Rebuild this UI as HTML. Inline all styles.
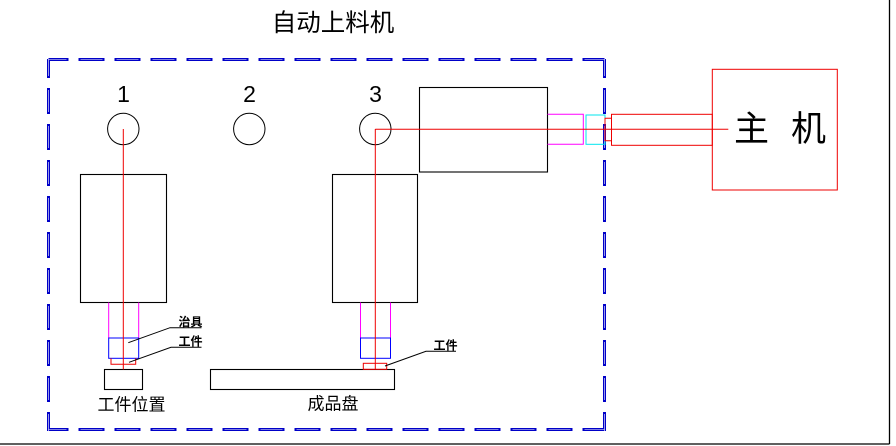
<!DOCTYPE html>
<html><head><meta charset="utf-8"><style>
html,body{margin:0;padding:0;background:#fff;}
svg{display:block;}
</style></head><body>
<svg width="896" height="446" viewBox="0 0 896 446" xmlns="http://www.w3.org/2000/svg">
<rect x="0" y="0" width="896" height="446" fill="#fff"/>
<!-- outer frame lines -->
<line x1="889.5" y1="0" x2="889.5" y2="444" stroke="#000" stroke-width="1.3"/>
<line x1="0" y1="444" x2="889.5" y2="444" stroke="#000" stroke-width="1.3"/>

<!-- title -->
<text x="333" y="31" font-family="'Liberation Sans','Noto Sans CJK SC',sans-serif" font-size="24.5" text-anchor="middle" fill="#000">自动上料机</text>

<!-- dashed boundary -->
<g fill="none">
  <g stroke="#0000c8" stroke-width="3" stroke-dasharray="26 10">
    <line x1="48.5" y1="59.5" x2="604.5" y2="59.5" stroke-dashoffset="6"/>
    <line x1="48.5" y1="429.5" x2="604.5" y2="429.5" stroke-dashoffset="6"/>
    <line x1="48.5" y1="59" x2="48.5" y2="431" stroke-dashoffset="7"/>
    <line x1="604.5" y1="59" x2="604.5" y2="431" stroke-dashoffset="7"/>
  </g>
  <g stroke="#ffffff" stroke-width="0.6" stroke-dasharray="22 14">
    <line x1="48.5" y1="59.5" x2="604.5" y2="59.5" stroke-dashoffset="4"/>
    <line x1="48.5" y1="429.5" x2="604.5" y2="429.5" stroke-dashoffset="4"/>
    <line x1="48.5" y1="59" x2="48.5" y2="431" stroke-dashoffset="5"/>
    <line x1="604.5" y1="59" x2="604.5" y2="431" stroke-dashoffset="5"/>
  </g>
</g>

<!-- station numbers -->
<g font-family="'Liberation Sans',sans-serif" font-size="23" text-anchor="middle" fill="#000">
  <text x="123.5" y="102">1</text>
  <text x="249.5" y="102">2</text>
  <text x="375.5" y="102">3</text>
</g>

<!-- circles -->
<g fill="none" stroke="#000" stroke-width="1">
  <circle cx="123.3" cy="129" r="15.7"/>
  <circle cx="249.3" cy="129" r="15.7"/>
  <circle cx="375.3" cy="129" r="15.7"/>
</g>

<!-- cylinder boxes -->
<g fill="none" stroke="#000" stroke-width="1.1">
  <rect x="80.5" y="174.5" width="86" height="128"/>
  <rect x="332.5" y="174.5" width="85" height="128"/>
  <rect x="419.5" y="87.5" width="128" height="84.5"/>
  <rect x="104.5" y="369.5" width="38" height="20"/>
  <rect x="210.5" y="369.5" width="184" height="20"/>
</g>

<!-- magenta rods -->
<g stroke="#ff00ff" stroke-width="1" fill="none">
  <line x1="108.7" y1="302.5" x2="108.7" y2="338"/>
  <line x1="138.7" y1="302.5" x2="138.7" y2="338"/>
  <line x1="360.5" y1="302.5" x2="360.5" y2="338"/>
  <line x1="390.5" y1="302.5" x2="390.5" y2="338"/>
  <polyline points="547.5,114.3 583.3,114.3 583.3,144.3 547.5,144.3"/>
</g>

<!-- blue jigs -->
<g stroke="#0000ff" stroke-width="1" fill="none">
  <rect x="108.7" y="338" width="30" height="20.3"/>
  <rect x="360.5" y="338" width="30" height="20.3"/>
</g>

<!-- cyan coupling -->
<rect x="586" y="115" width="19" height="29.3" fill="none" stroke="#00e5ee" stroke-width="1"/>

<!-- red parts -->
<g stroke="#ee0000" stroke-width="1" fill="none">
  <polyline points="111,358.3 111,364.3 135.7,364.3 135.7,358.3"/>
  <rect x="363.3" y="363.3" width="23.4" height="6"/>
  <line x1="123.3" y1="129" x2="123.3" y2="369.5"/>
  <line x1="375.3" y1="129" x2="375.3" y2="369.5"/>
  <line x1="375.3" y1="129.3" x2="728.3" y2="129.3"/>
  <polyline points="611.5,118.3 605,118.3 605,140.7 611.5,140.7"/>
  <rect x="611.5" y="114.3" width="100.8" height="31"/>
  <rect x="712.3" y="69.3" width="125" height="120.7"/>
</g>

<!-- host label -->
<g font-family="'Liberation Sans','Noto Sans CJK SC',sans-serif" font-size="35" fill="#000">
  <text x="734" y="141">主</text>
  <text x="791" y="141">机</text>
</g>

<!-- leaders -->
<g stroke="#000" stroke-width="1" fill="none">
  <polyline points="128.3,342.7 170,327.7 201.5,327.7"/>
  <polyline points="129,362.3 171,347.3 201.5,347.3"/>
  <polyline points="385,366 426,351.3 456,351.3"/>
</g>
<g font-family="'Liberation Sans','Noto Sans CJK SC',sans-serif" font-size="12" font-weight="bold" fill="#000">
  <text x="178.5" y="326">治具</text>
  <text x="178.5" y="345.5">工件</text>
  <text x="433.5" y="349.5">工件</text>
</g>

<!-- bottom labels -->
<g font-family="'Liberation Sans','Noto Sans CJK SC',sans-serif" font-size="17" fill="#000" text-anchor="middle">
  <text x="131.5" y="410.5">工件位置</text>
  <text x="333" y="409.5">成品盘</text>
</g>
</svg>
</body></html>
